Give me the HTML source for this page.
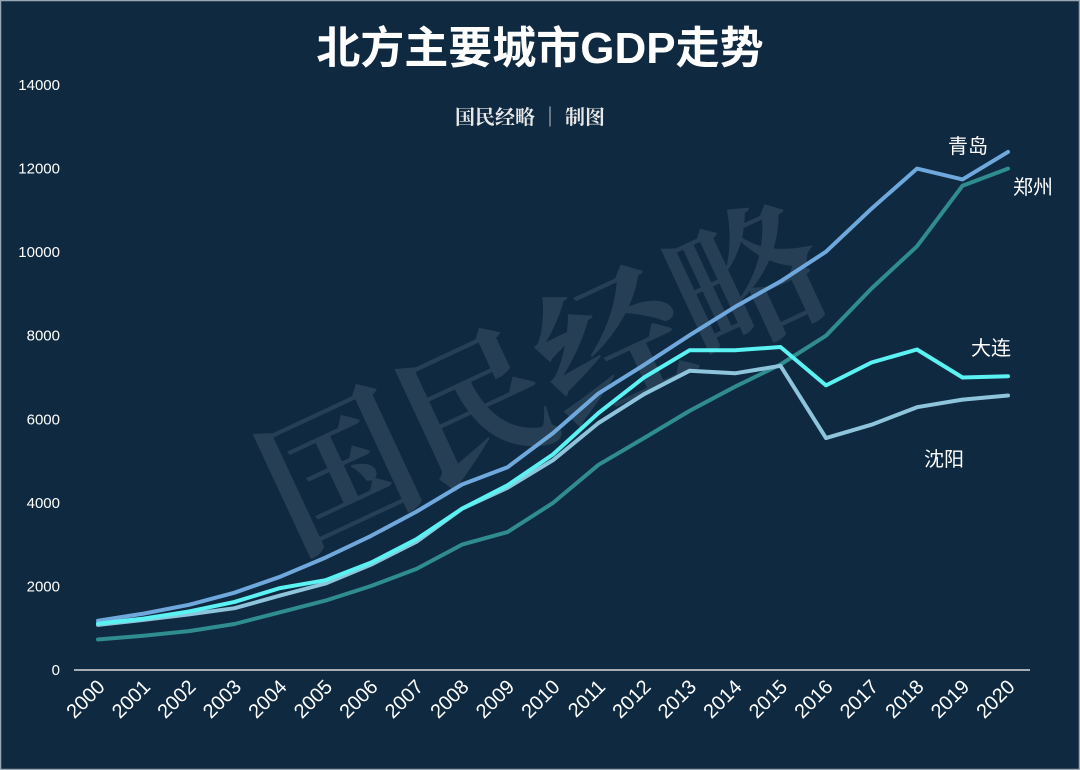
<!DOCTYPE html>
<html><head><meta charset="utf-8">
<style>
html,body{margin:0;padding:0;background:#0e2940;}
svg{display:block;}
text{font-family:"Liberation Sans","Noto Sans CJK SC",sans-serif;}
</style></head><body>
<svg id="s" width="1080" height="770" xmlns="http://www.w3.org/2000/svg">
<rect x="0" y="0" width="1080" height="770" fill="#0e2940"/>
<rect x="0.5" y="0.5" width="1079" height="769" fill="none" stroke="#9aa7b2" stroke-width="1.5"/>
<text x="545" y="430" transform="rotate(-25 545 380)" text-anchor="middle" font-size="150" font-weight="bold" fill="#263f55" style="font-family:'Noto Serif CJK SC',serif">国民经略</text>
<text x="540" y="63" text-anchor="middle" font-size="44" font-weight="bold" fill="#ffffff">北方主要城市GDP走势</text>
<text x="530" y="124" text-anchor="middle" font-size="20" fill="#e8e8e8" style="font-family:'Noto Serif CJK SC',serif" font-weight="bold">国民经略 │ 制图</text>
<g id="yl" font-size="15" fill="#ffffff" text-anchor="end"></g>
<line x1="74" y1="670" x2="1030" y2="670" stroke="#d9d9d9" stroke-width="1.5"/>
<g id="xl" font-size="20" fill="#ffffff"></g>
<g id="lines" fill="none" stroke-width="4" stroke-linejoin="round" stroke-linecap="round"></g>
<g font-size="20" fill="#ffffff">
<text x="948" y="153">青岛</text>
<text x="1013" y="194">郑州</text>
<text x="971" y="355">大连</text>
<text x="924" y="466">沈阳</text>
</g>
</svg>
<script>
var ns="http://www.w3.org/2000/svg";
function X(i){return 98+45.5*i;}
function Y(v){return 670-v*585/14000;}
var yl=document.getElementById('yl');
for(var v=0;v<=14000;v+=2000){var t=document.createElementNS(ns,'text');t.setAttribute('x',60);t.setAttribute('y',Y(v)+5);t.textContent=v;yl.appendChild(t);}
var xl=document.getElementById('xl');
for(var i=0;i<=20;i++){var t=document.createElementNS(ns,'text');var x=X(i)+8,y=688;t.setAttribute('x',x);t.setAttribute('y',y);t.setAttribute('text-anchor','end');t.setAttribute('transform','rotate(-45 '+x+' '+y+')');t.textContent=2000+i;xl.appendChild(t);}
var data=[
["#2f8c8f",[730,820,930,1100,1380,1660,2010,2420,3000,3300,4000,4910,5550,6200,6780,7310,8000,9130,10140,11590,12000]],
["#6fa8dc",[1180,1350,1560,1850,2230,2690,3210,3790,4440,4850,5670,6620,7300,8010,8690,9300,10010,11040,12000,11740,12400]],
["#8ec4dc",[1080,1200,1330,1480,1780,2070,2520,3070,3860,4360,5020,5910,6600,7160,7100,7280,5550,5870,6290,6470,6570]],
["#5af2f2",[1110,1230,1400,1630,1960,2150,2570,3130,3860,4420,5160,6150,7000,7650,7650,7730,6810,7360,7670,7000,7030]]
];
var g=document.getElementById('lines');
data.forEach(function(d){var p=document.createElementNS(ns,'polyline');p.setAttribute('stroke',d[0]);p.setAttribute('points',d[1].map(function(v,i){return X(i)+','+Y(v).toFixed(1);}).join(' '));g.appendChild(p);});
</script>
</body></html>
